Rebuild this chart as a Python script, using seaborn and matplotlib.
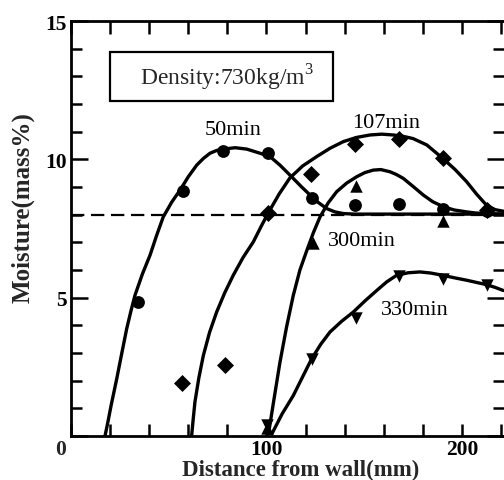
import matplotlib
matplotlib.use("Agg")
import matplotlib.pyplot as plt
import seaborn as sns
from matplotlib.patches import Rectangle
from matplotlib.ticker import MultipleLocator, FixedLocator

# ---------------------------------------------------------------
# data
# ---------------------------------------------------------------
# measured points
circ_x = [34.1, 57.1, 77.7, 100.6, 123.3, 145.3, 167.9, 190.3, 212.6]          # 50min
circ_y = [4.84, 8.85, 10.30, 10.24, 8.59, 8.34, 8.37, 8.22, 8.15]
diam_x = [56.6, 78.8, 100.8, 122.6, 145.3, 167.9, 190.1, 212.6]                # 107min
diam_y = [1.92, 2.55, 8.07, 9.46, 10.54, 10.74, 10.04, 8.16]
tri_up_x = [100.1, 123.6, 145.8, 190.4]                                        # 300min
tri_up_y = [0.30, 6.96, 9.05, 7.76]
tri_dn_x = [100.1, 123.1, 145.8, 168.0, 190.1, 212.6]                          # 330min
tri_dn_y = [0.40, 2.79, 4.28, 5.79, 5.69, 5.47]

# fitted curves (traced)
c50_x = [17.4, 19.0, 20.5, 22.0, 23.4, 26.0, 28.5, 30.6, 32.7, 36.5, 40.4, 43.8, 47.2,
         51.5, 55.8, 60.0, 64.3, 67.7, 71.1, 74.5, 77.9, 84.0, 89.9, 96.7, 101.8,
         106.9, 113.7, 118.0, 122.3, 126.5, 130.8, 135.0, 139.3, 145.0, 150.0, 170.0, 200.0, 222.0]
c50_y = [0.0, 0.55, 1.1, 1.6, 2.07, 3.0, 3.88, 4.5, 5.08, 5.85, 6.53, 7.25, 7.92,
         8.45, 8.89, 9.37, 9.79, 10.03, 10.22, 10.32, 10.37, 10.42, 10.37, 10.22, 10.10,
         9.79, 9.31, 9.0, 8.71, 8.44, 8.22, 8.10, 8.04, 8.02, 8.02, 8.02, 8.02, 8.02]
c107_x = [61.7, 62.5, 63.4, 65.4, 67.7, 70.9, 74.5, 78.6, 83.0, 88.0, 93.3, 97.3, 101.2,
          106.5, 112.0, 118.5, 125.7, 132.5, 139.3, 146.0, 152.9, 159.0, 164.9, 170.0,
          175.0, 182.0, 190.1, 196.5, 202.4, 207.5, 212.6, 217.0, 221.5]
c107_y = [0.0, 0.6, 1.23, 2.1, 2.91, 3.75, 4.48, 5.17, 5.81, 6.45, 7.02, 7.58, 8.10,
          8.75, 9.33, 9.76, 10.10, 10.40, 10.64, 10.79, 10.88, 10.91, 10.88, 10.83,
          10.75, 10.52, 10.04, 9.63, 9.19, 8.74, 8.34, 8.18, 8.12]
c300_x = [101.0, 104.0, 106.9, 110.3, 113.7, 117.1, 120.6, 124.0, 127.4, 131.5, 135.9,
          141.0, 146.1, 150.3, 154.6, 158.5, 163.2, 166.5, 170.0, 175.0, 180.2, 185.0,
          190.4, 196.0, 202.4, 207.0, 212.0, 221.5]
c300_y = [0.07, 1.40, 2.67, 3.95, 5.08, 6.0, 6.70, 7.35, 7.92, 8.42, 8.83,
          9.14, 9.37, 9.52, 9.61, 9.63, 9.55, 9.45, 9.31, 9.02, 8.71, 8.47,
          8.29, 8.17, 8.10, 8.06, 8.04, 8.02]
c330_x = [102.7, 108.0, 113.7, 118.5, 123.1, 127.8, 132.5, 138.5, 144.4, 150.5, 156.4,
          161.5, 166.6, 172.5, 178.5, 184.0, 190.1, 196.0, 202.4, 207.5, 212.6, 217.0, 221.1]
c330_y = [0.07, 0.80, 1.46, 2.14, 2.79, 3.32, 3.76, 4.15, 4.48, 4.89, 5.26,
          5.57, 5.81, 5.90, 5.93, 5.89, 5.81, 5.72, 5.63, 5.55, 5.47, 5.37, 5.26]

initial_moisture = 8.0

labels = ["50min", "107min", "300min", "330min"]
label_x = [82.9, 161.4, 148.8, 176.0]
label_y = [11.09, 11.34, 7.07, 4.58]

# ---------------------------------------------------------------
# plot
# ---------------------------------------------------------------
sns.set_theme(style="ticks")
plt.rcParams["font.family"] = ["Liberation Serif", "DejaVu Serif"]
plt.rcParams["mathtext.fontset"] = "custom"
plt.rcParams["mathtext.rm"] = "Liberation Serif"

fig = plt.figure(figsize=(5.04, 4.81), dpi=100)
ax = fig.add_axes([71 / 504, 44 / 481, 433 / 504, 415 / 481])

for cx, cy in [(c50_x, c50_y), (c107_x, c107_y), (c300_x, c300_y), (c330_x, c330_y)]:
    sns.lineplot(x=cx, y=cy, ax=ax, color="black", lw=2.4, sort=False, estimator=None,
                 solid_joinstyle="round")

ax.axhline(initial_moisture, color="black", lw=1.6, ls=(0, (6, 3)))

sns.scatterplot(x=circ_x, y=circ_y, ax=ax, marker="o", s=85, color="black", linewidth=0, zorder=5)
sns.scatterplot(x=diam_x, y=diam_y, ax=ax, marker="D", s=75, color="black", linewidth=0, zorder=5)
sns.scatterplot(x=tri_up_x, y=tri_up_y, ax=ax, marker="^", s=80, color="black", linewidth=0, zorder=5)
sns.scatterplot(x=tri_dn_x, y=tri_dn_y, ax=ax, marker="v", s=80, color="black", linewidth=0, zorder=5)

for t, tx, ty in zip(labels, label_x, label_y):
    ax.text(tx, ty, t, fontsize=16, ha="center", va="center", color="black")

ax.add_patch(Rectangle((0.090, 0.807), 0.515, 0.118, transform=ax.transAxes,
                       fill=False, lw=1.6, ec="black", zorder=6))
ax.text(0.36, 0.866, r"Density:730kg/m$^{\mathregular{3}}$", transform=ax.transAxes,
        fontsize=17, ha="center", va="center")

ax.set_xlim(0, 221.5)
ax.set_ylim(0, 15)

ax.xaxis.set_major_locator(FixedLocator([0, 100, 200]))
ax.xaxis.set_minor_locator(MultipleLocator(20))
ax.set_xticklabels(["", "100", "200"])
ax.yaxis.set_major_locator(FixedLocator([0, 5, 10, 15]))
ax.yaxis.set_minor_locator(MultipleLocator(1))
ax.set_yticklabels(["", "5", "10", "15"])

ax.tick_params(axis="both", which="both", direction="in", top=True, right=True,
               width=1.8, colors="black", labelsize=15.5, pad=3)
ax.tick_params(axis="x", which="major", pad=2)
ax.tick_params(axis="x", which="both", length=9)
ax.tick_params(axis="y", which="major", length=12)
ax.tick_params(axis="y", which="minor", length=8)
for lab in ax.get_xticklabels() + ax.get_yticklabels():
    lab.set_fontweight("bold")

ax.text(-0.023, -0.031, "0", transform=ax.transAxes, fontsize=15.5, fontweight="bold",
        ha="center", va="center")

for side in ["left", "bottom", "top"]:
    ax.spines[side].set_linewidth(2.0)
    ax.spines[side].set_color("black")
ax.spines["right"].set_visible(False)

ax.set_xlabel("Distance from wall(mm)", fontsize=16.5, fontweight="bold")
ax.xaxis.set_label_coords(0.531, -0.0554)
ax.set_ylabel("Moisture(mass%)", fontsize=18, fontweight="bold")
ax.yaxis.set_label_coords(-0.083, 0.554)

fig.savefig("out.png", dpi=100)
